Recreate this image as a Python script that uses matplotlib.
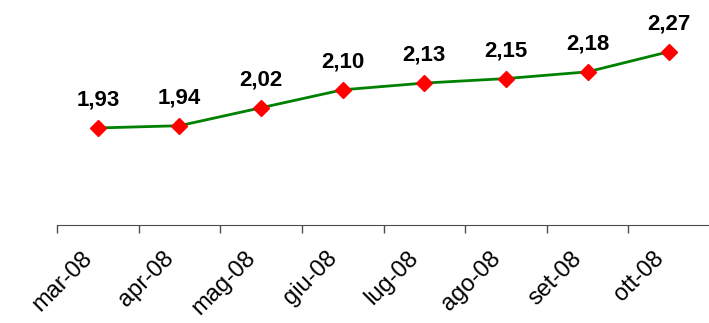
import numpy as np
import matplotlib.pyplot as plt
import matplotlib.transforms as mtransforms
from matplotlib.ticker import FixedLocator, NullFormatter

plt.rcParams['font.family'] = ['Liberation Sans', 'DejaVu Sans']

months = ["mar-08", "apr-08", "mag-08", "giu-08", "lug-08", "ago-08", "set-08", "ott-08"]
values = [1.93, 1.94, 2.02, 2.10, 2.13, 2.15, 2.18, 2.27]

x = np.arange(len(months))

fig = plt.figure(figsize=(7.09, 3.23), dpi=100)
ax = fig.add_axes([57 / 709, 98.5 / 323, 653 / 709, 224.5 / 323])

ax.plot(x, values, color="#008000", lw=2, marker="D", ms=8,
        mfc="#ff0000", mec="#ff0000", zorder=3)

for xi, v in zip(x, values):
    ax.annotate("{:.2f}".format(v).replace(".", ","), (xi, v),
                xytext=(0, 16), textcoords="offset points",
                ha="center", va="baseline", fontsize=16, fontweight="bold")

ax.set_xlim(-0.5, len(months) - 0.5)
ax.set_ylim(1.5, 2.5)

# labels sit under the categories, tick marks between them
ax.set_xticks(x)
ax.set_xticklabels(months, rotation=45, ha="right", va="center",
                   rotation_mode="anchor", fontsize=17)
ax.tick_params(axis="x", which="major", length=0, pad=22)
shift = mtransforms.ScaledTranslation(-0.09, 0, fig.dpi_scale_trans)
for lbl in ax.get_xticklabels():
    lbl.set_transform(lbl.get_transform() + shift)
ax.xaxis.set_minor_locator(FixedLocator(x - 0.5))
ax.xaxis.set_minor_formatter(NullFormatter())
ax.tick_params(axis="x", which="minor", length=6, width=1, color="#4d4d4d")

ax.set_yticks([])
for side in ("left", "right", "top"):
    ax.spines[side].set_visible(False)
ax.spines["bottom"].set_color("#4d4d4d")

fig.savefig("out.png", dpi=100)
